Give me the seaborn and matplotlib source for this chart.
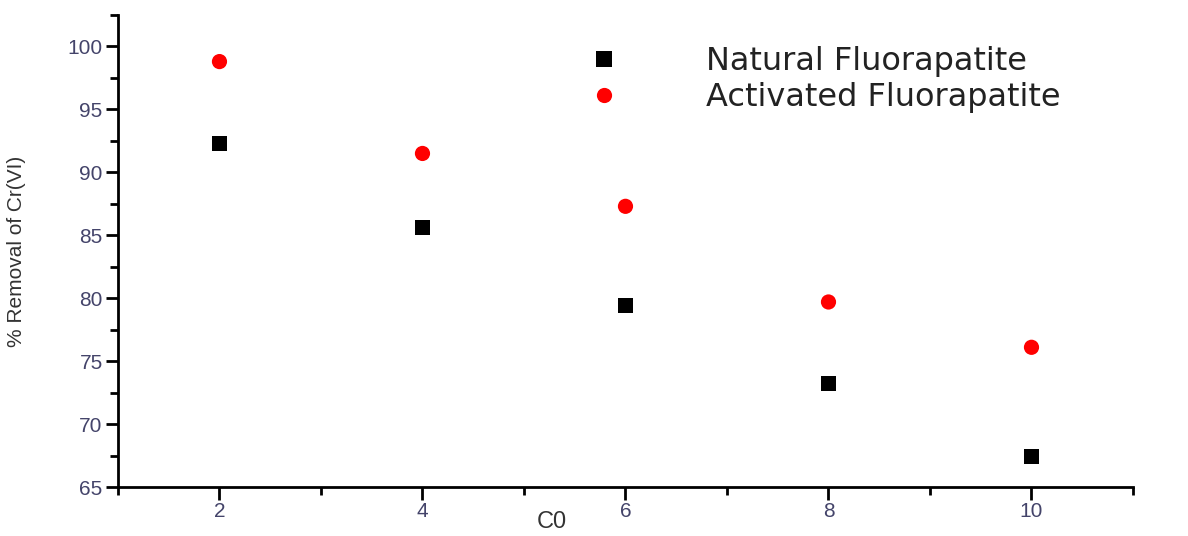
import numpy as np
import pandas as pd
import seaborn as sns
import matplotlib.pyplot as plt
from matplotlib.ticker import MultipleLocator

# data
c0 = [2, 4, 6, 8, 10]
natural = [92.3, 85.6, 79.4, 73.2, 67.4]
activated = [98.8, 91.5, 87.3, 79.7, 76.1]
series = ['Natural Fluorapatite', 'Activated Fluorapatite']

df = pd.DataFrame({
    'C0': c0 * 2,
    'removal': natural + activated,
    'sample': [series[0]] * len(c0) + [series[1]] * len(c0),
})

sns.set_style('white')
plt.rcParams['font.family'] = ['Liberation Sans', 'DejaVu Sans']

fig = plt.figure(figsize=(11.88, 5.36), dpi=100)
ax = fig.add_axes([0.0993, 0.0914, 0.8544, 0.8806])

sns.scatterplot(data=df, x='C0', y='removal', hue='sample', style='sample',
                palette={series[0]: 'black', series[1]: 'red'},
                markers={series[0]: 's', series[1]: 'o'},
                s=120, linewidth=0, ax=ax)

ax.set_xlim(1, 11)
ax.set_ylim(65, 102.5)
ax.xaxis.set_minor_locator(MultipleLocator(1))
ax.yaxis.set_minor_locator(MultipleLocator(2.5))
ax.set_xticks([2, 4, 6, 8, 10])
ax.set_yticks([65, 70, 75, 80, 85, 90, 95, 100])

tick_col = '#44446a'
ax.tick_params(axis='both', which='major', direction='out', length=9, width=2,
               colors='black', labelcolor=tick_col, labelsize=15, pad=2,
               bottom=True, left=True)
ax.tick_params(axis='both', which='minor', direction='out', length=6, width=2,
               colors='black', bottom=True, left=True)

sns.despine(ax=ax)
for sp in ['left', 'bottom']:
    ax.spines[sp].set_linewidth(2)
    ax.spines[sp].set_color('black')

ax.set_xlabel('C0', fontsize=17, color='#333333', va='center')
ax.xaxis.set_label_coords(0.427, -0.074)
ax.set_ylabel('% Removal of Cr(VI)', fontsize=15, color='#333333', labelpad=30)

leg = ax.legend(loc='upper left', bbox_to_anchor=(0.419, 0.995), frameon=False,
                prop={'family': 'DejaVu Sans', 'size': 23},
                handletextpad=2.2, labelspacing=0.15, markerscale=1.0)
for t in leg.get_texts():
    t.set_color('#222222')

fig.savefig('out.png', dpi=100)
